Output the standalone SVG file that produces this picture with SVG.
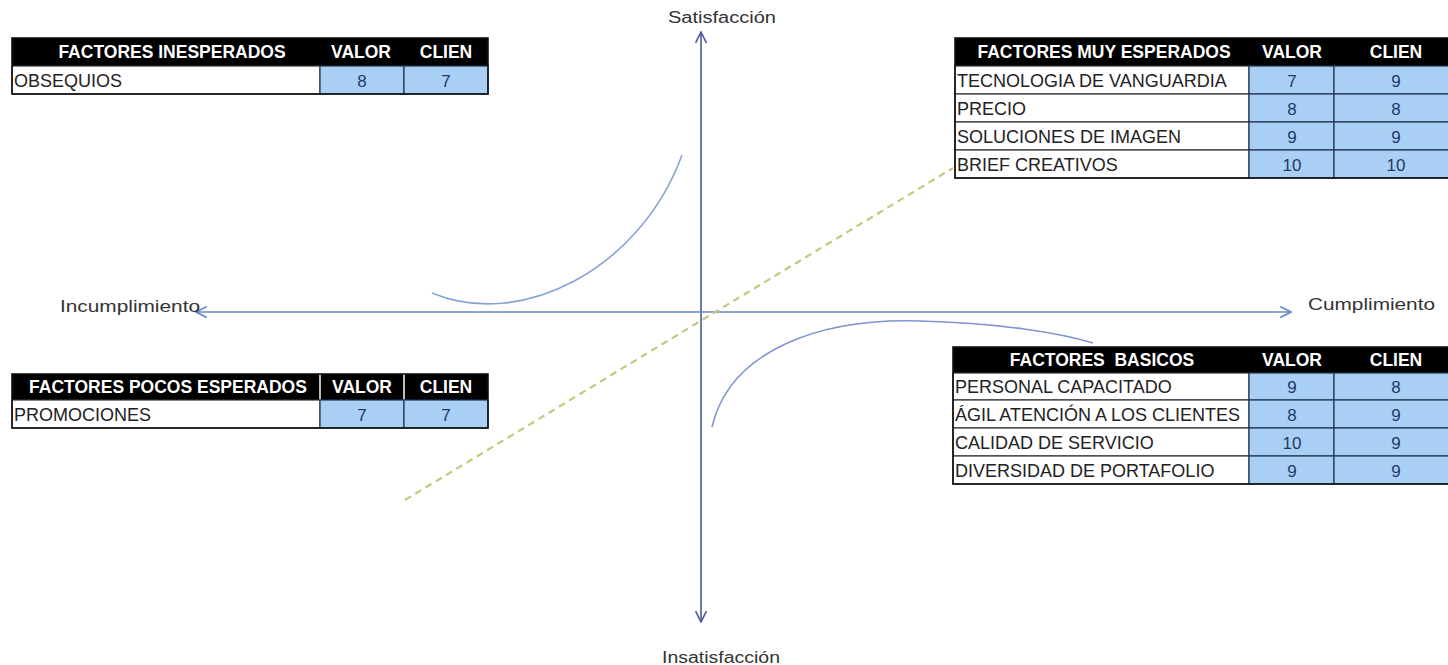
<svg xmlns="http://www.w3.org/2000/svg" width="1448" height="665" viewBox="0 0 1448 665">
<defs>
<marker id="chevV" viewBox="0 0 12 12" refX="11" refY="6" markerWidth="13" markerHeight="13" markerUnits="userSpaceOnUse" orient="auto-start-reverse">
<path d="M1,1 L11,6 L1,11" fill="none" stroke="#4a5a9e" stroke-width="1.5"/>
</marker>
<marker id="chevH" viewBox="0 0 12 12" refX="11" refY="6" markerWidth="13" markerHeight="13" markerUnits="userSpaceOnUse" orient="auto-start-reverse">
<path d="M1,1 L11,6 L1,11" fill="none" stroke="#6b85c2" stroke-width="1.5"/>
</marker>
</defs>
<style>
text{font-family:"Liberation Sans",Arial,sans-serif}
.hd{fill:#000}
.hdt{fill:#fff;font-weight:bold;font-size:17.5px;text-anchor:middle;white-space:pre}
.cell{fill:#fff;stroke:#333;stroke-width:1.2}
.num{fill:#a9cff5;stroke:#1f3552;stroke-width:1.2}
.rt{fill:#222;font-size:18px}
.nt{fill:#1f3a66;font-size:17px;text-anchor:middle}
.frame{fill:none;stroke:#111;stroke-width:1.6}
.ax{font-size:16px;fill:#333}
.sep{stroke:#fff;stroke-width:1.5}
</style>
<rect width="1448" height="665" fill="#fff"/>

<g id="connectors">
<line x1="701" y1="32" x2="701" y2="622" stroke="#4a5a9e" stroke-width="1.6" marker-start="url(#chevV)" marker-end="url(#chevV)"/>
<line x1="196" y1="312" x2="1291" y2="312" stroke="#6b85c2" stroke-width="1.5" marker-start="url(#chevH)" marker-end="url(#chevH)"/>
<path d="M432,293 C520,330 640,270 682,155" fill="none" stroke="#8aa3d4" stroke-width="1.6"/>
<path d="M712,427 C730,350 820,318 920,321 C1000,323 1060,333 1093,343" fill="none" stroke="#7d95cc" stroke-width="1.6"/>
<line x1="405" y1="500" x2="953" y2="168" stroke="#c4c87e" stroke-width="2.2" stroke-dasharray="7,5"/>
</g>

<g id="label-satisfaccion"><text class="ax" x="668" y="23" textLength="108" lengthAdjust="spacingAndGlyphs">Satisfacción</text></g>
<g id="label-insatisfaccion"><text class="ax" x="662" y="663" textLength="118" lengthAdjust="spacingAndGlyphs">Insatisfacción</text></g>
<g id="label-incumplimiento"><text class="ax" x="60" y="312" textLength="140" lengthAdjust="spacingAndGlyphs">Incumplimiento</text></g>
<g id="label-cumplimiento"><text class="ax" x="1308" y="310" textLength="127" lengthAdjust="spacingAndGlyphs">Cumplimiento</text></g>

<g id="table-inesperados">
<rect class="hd" x="12" y="38" width="476" height="28"/>
<text class="hdt" x="172" y="58">FACTORES INESPERADOS</text>
<text class="hdt" x="361" y="58">VALOR</text>
<text class="hdt" x="446" y="58">CLIEN</text>
<rect class="cell" x="12" y="66" width="308" height="28"/>
<rect class="num" x="320" y="66" width="84" height="28"/>
<rect class="num" x="404" y="66" width="84" height="28"/>
<text class="rt" x="14" y="87">OBSEQUIOS</text>
<text class="nt" x="362" y="87">8</text>
<text class="nt" x="446" y="87">7</text>
<rect class="frame" x="12" y="38" width="476" height="56"/>
</g>

<g id="table-pocos">
<rect class="hd" x="12" y="374" width="476" height="26"/>
<line class="sep" x1="320" y1="374" x2="320" y2="400"/>
<line class="sep" x1="404" y1="374" x2="404" y2="400"/>
<text class="hdt" x="168" y="393">FACTORES POCOS ESPERADOS</text>
<text class="hdt" x="362" y="393">VALOR</text>
<text class="hdt" x="446" y="393">CLIEN</text>
<rect class="cell" x="12" y="400" width="308" height="28"/>
<rect class="num" x="320" y="400" width="84" height="28"/>
<rect class="num" x="404" y="400" width="84" height="28"/>
<text class="rt" x="14" y="421">PROMOCIONES</text>
<text class="nt" x="362" y="421">7</text>
<text class="nt" x="446" y="421">7</text>
<rect class="frame" x="12" y="374" width="476" height="54"/>
</g>

<g id="table-muy-esperados">
<rect class="hd" x="955" y="38" width="505" height="28"/>
<text class="hdt" x="1104" y="58">FACTORES MUY ESPERADOS</text>
<text class="hdt" x="1292" y="58">VALOR</text>
<text class="hdt" x="1396" y="58">CLIEN</text>
<rect class="cell" x="955" y="66" width="294" height="28"/>
<rect class="num" x="1249" y="66" width="85" height="28"/>
<rect class="num" x="1334" y="66" width="126" height="28"/>
<text class="rt" x="957" y="87">TECNOLOGIA DE VANGUARDIA</text>
<text class="nt" x="1292" y="87">7</text>
<text class="nt" x="1396" y="87">9</text>
<rect class="cell" x="955" y="94" width="294" height="28"/>
<rect class="num" x="1249" y="94" width="85" height="28"/>
<rect class="num" x="1334" y="94" width="126" height="28"/>
<text class="rt" x="957" y="115">PRECIO</text>
<text class="nt" x="1292" y="115">8</text>
<text class="nt" x="1396" y="115">8</text>
<rect class="cell" x="955" y="122" width="294" height="28"/>
<rect class="num" x="1249" y="122" width="85" height="28"/>
<rect class="num" x="1334" y="122" width="126" height="28"/>
<text class="rt" x="957" y="143">SOLUCIONES DE IMAGEN</text>
<text class="nt" x="1292" y="143">9</text>
<text class="nt" x="1396" y="143">9</text>
<rect class="cell" x="955" y="150" width="294" height="28"/>
<rect class="num" x="1249" y="150" width="85" height="28"/>
<rect class="num" x="1334" y="150" width="126" height="28"/>
<text class="rt" x="957" y="171">BRIEF CREATIVOS</text>
<text class="nt" x="1292" y="171">10</text>
<text class="nt" x="1396" y="171">10</text>
<rect class="frame" x="955" y="38" width="505" height="140"/>
</g>

<g id="table-basicos">
<rect class="hd" x="953" y="347" width="507" height="26"/>
<text class="hdt" x="1102" y="366">FACTORES  BASICOS</text>
<text class="hdt" x="1292" y="366">VALOR</text>
<text class="hdt" x="1396" y="366">CLIEN</text>
<rect class="cell" x="953" y="373" width="296" height="27"/>
<rect class="num" x="1249" y="373" width="85" height="27"/>
<rect class="num" x="1334" y="373" width="126" height="27"/>
<text class="rt" x="955" y="393">PERSONAL CAPACITADO</text>
<text class="nt" x="1292" y="393">9</text>
<text class="nt" x="1396" y="393">8</text>
<rect class="cell" x="953" y="400" width="296" height="28"/>
<rect class="num" x="1249" y="400" width="85" height="28"/>
<rect class="num" x="1334" y="400" width="126" height="28"/>
<text class="rt" x="955" y="421">ÁGIL ATENCIÓN A LOS CLIENTES</text>
<text class="nt" x="1292" y="421">8</text>
<text class="nt" x="1396" y="421">9</text>
<rect class="cell" x="953" y="428" width="296" height="28"/>
<rect class="num" x="1249" y="428" width="85" height="28"/>
<rect class="num" x="1334" y="428" width="126" height="28"/>
<text class="rt" x="955" y="449">CALIDAD DE SERVICIO</text>
<text class="nt" x="1292" y="449">10</text>
<text class="nt" x="1396" y="449">9</text>
<rect class="cell" x="953" y="456" width="296" height="28"/>
<rect class="num" x="1249" y="456" width="85" height="28"/>
<rect class="num" x="1334" y="456" width="126" height="28"/>
<text class="rt" x="955" y="477">DIVERSIDAD DE PORTAFOLIO</text>
<text class="nt" x="1292" y="477">9</text>
<text class="nt" x="1396" y="477">9</text>
<rect class="frame" x="953" y="347" width="507" height="137"/>
</g>
</svg>
